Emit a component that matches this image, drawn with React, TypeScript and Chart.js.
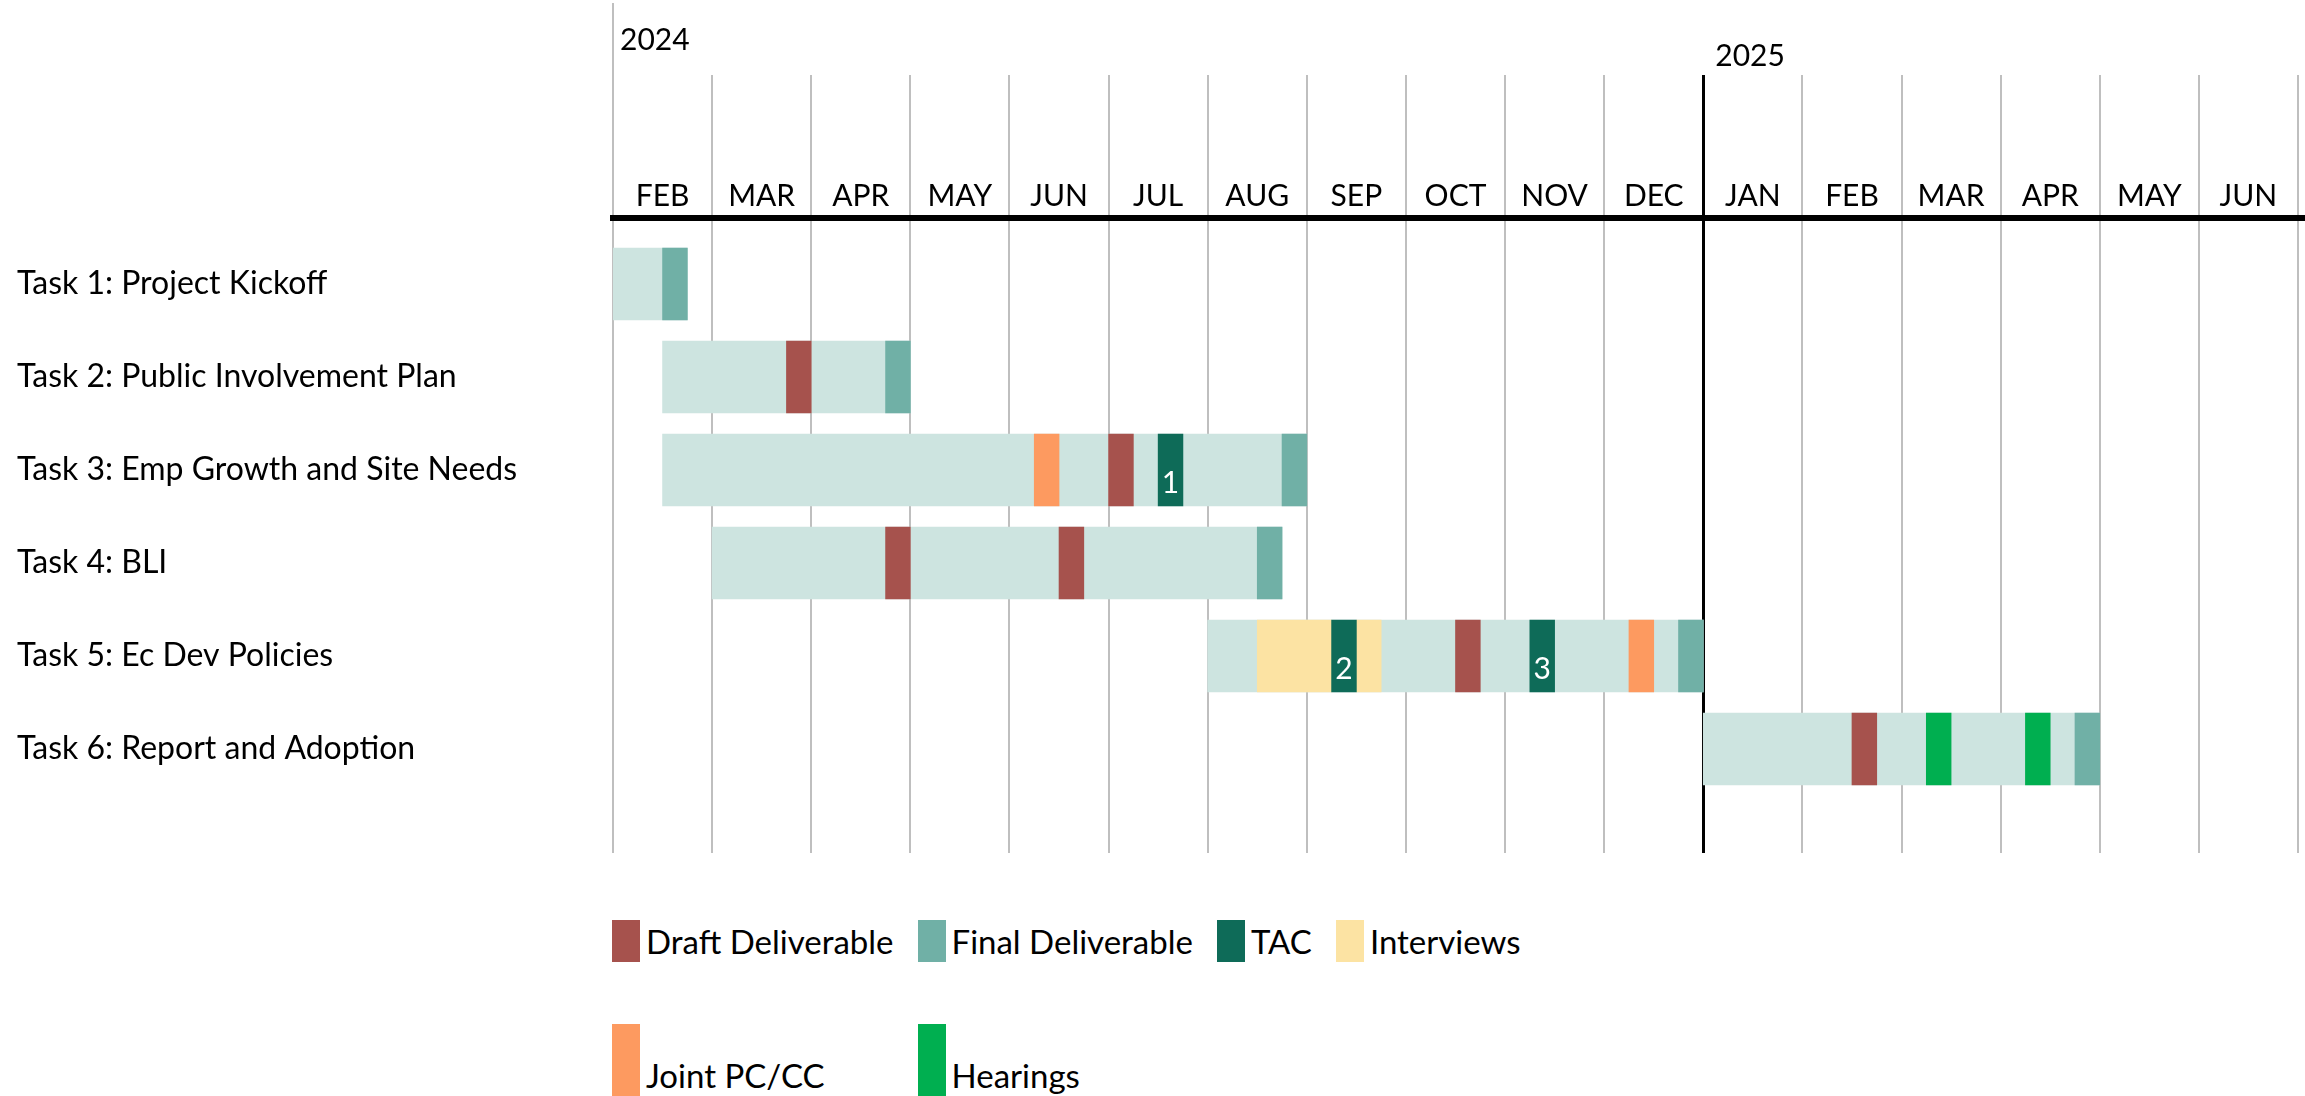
import React, { useEffect, useRef } from 'react';
import { Chart, registerables } from 'chart.js';

Chart.register(...registerables);

// ---------- data ----------
const TASKS = [
  'Task 1: Project Kickoff',
  'Task 2: Public Involvement Plan',
  'Task 3: Emp Growth and Site Needs',
  'Task 4: BLI',
  'Task 5: Ec Dev Policies',
  'Task 6: Report and Adoption',
];

const MONTHS = ['FEB', 'MAR', 'APR', 'MAY', 'JUN', 'JUL', 'AUG', 'SEP', 'OCT', 'NOV', 'DEC', 'JAN', 'FEB', 'MAR', 'APR', 'MAY', 'JUN'];
const YEARS = ['2024', '2025'];
const YEAR_START_MONTH = [0, 11];

// task spans in months from Feb 1 2024
const TASK_START = [0, 0.5, 0.5, 1, 6, 11];
const TASK_END = [0.75, 3, 7, 6.75, 11, 15];

// milestone blocks: [task index, start month, end month]
const DRAFT = [[1, 1.75, 2], [2, 5, 5.25], [3, 2.75, 3], [3, 4.5, 4.75], [4, 8.5, 8.75], [5, 12.5, 12.75]];
const FINAL = [[0, 0.5, 0.75], [1, 2.75, 3], [2, 6.75, 7], [3, 6.5, 6.75], [4, 10.75, 11], [5, 14.75, 15]];
const TAC = [[2, 5.5, 5.75], [4, 7.25, 7.5], [4, 9.25, 9.5]];
const TAC_LABELS = ['1', '2', '3'];
const INTERVIEWS = [[4, 6.5, 7.25], [4, 7.5, 7.75]];
const JOINT = [[2, 4.25, 4.5], [4, 10.25, 10.5]];
const HEARINGS = [[5, 13.25, 13.5], [5, 14.25, 14.5]];

const SERIES_NAMES = ['Draft Deliverable', 'Final Deliverable', 'TAC', 'Interviews', 'Joint PC/CC', 'Hearings'];
const SERIES_DATA = [DRAFT, FINAL, TAC, INTERVIEWS, JOINT, HEARINGS];

// ---------- styles ----------
const SERIES_COLORS = ['#a6524d', '#70b0a6', '#0e6b58', '#fce3a3', '#fd9a60', '#00af50'];
const BASE_COLOR = '#cde4e0';
const GRID_COLOR = '#bfbfbf';
const FONT = 'Lato';

const toPoints = (segs: number[][]) => segs.map(([t, s, e]) => ({ x: [s, e], y: t }));

const yearPlugin = {
  id: 'yearLabels',
  afterDraw(chart: any) {
    const { ctx, chartArea } = chart;
    const xs = chart.scales.x;
    ctx.save();
    const x0 = Math.round(xs.getPixelForValue(0));
    ctx.strokeStyle = GRID_COLOR;
    ctx.lineWidth = 2;
    ctx.beginPath();
    ctx.moveTo(x0, 3);
    ctx.lineTo(x0, 76);
    ctx.stroke();
    ctx.fillStyle = '#000';
    ctx.fillRect(chartArea.right, chartArea.top - 3, chart.width - chartArea.right, 6);
    ctx.font = `30px ${FONT}`;
    ctx.textAlign = 'left';
    ctx.textBaseline = 'middle';
    const dx = [7, 12];
    const ys = [40, 56];
    YEARS.forEach((y, i) => {
      ctx.fillText(y, xs.getPixelForValue(YEAR_START_MONTH[i]) + dx[i], ys[i]);
    });
    ctx.restore();
  },
};

const tacLabelPlugin = {
  id: 'tacLabels',
  afterDatasetsDraw(chart: any) {
    const idx = chart.data.datasets.findIndex((d: any) => d.label === 'TAC');
    if (idx < 0) return;
    const meta = chart.getDatasetMeta(idx);
    const { ctx } = chart;
    ctx.save();
    ctx.fillStyle = '#fff';
    ctx.font = `30px ${FONT}`;
    ctx.textAlign = 'center';
    ctx.textBaseline = 'middle';
    meta.data.forEach((el: any, i: number) => {
      const { x, base, y } = el.getProps(['x', 'base', 'y'], true);
      ctx.fillText(TAC_LABELS[i] ?? '', (x + base) / 2, y + 13);
    });
    ctx.restore();
  },
};

export default function App() {
  const ref = useRef<HTMLCanvasElement | null>(null);

  useEffect(() => {
    if (!ref.current) return;
    const datasets: any[] = [
      {
        label: 'Duration',
        data: TASKS.map((_, i) => ({ x: [TASK_START[i], TASK_END[i]], y: i })),
        backgroundColor: BASE_COLOR,
        order: 1,
      },
      ...SERIES_NAMES.map((name, i) => ({
        label: name,
        data: toPoints(SERIES_DATA[i]),
        backgroundColor: SERIES_COLORS[i],
        order: 0,
      })),
    ];

    const chart = new Chart(ref.current, {
      type: 'bar',
      data: { datasets },
      plugins: [yearPlugin, tacLabelPlugin],
      options: {
        indexAxis: 'y',
        responsive: false,
        animation: false,
        devicePixelRatio: 1,
        layout: { padding: { top: 75, left: 17, right: 7, bottom: 27 } },
        datasets: {
          bar: { grouped: false, barThickness: 72, borderWidth: 0 },
        },
        plugins: {
          legend: { display: false },
          tooltip: { enabled: false },
        },
        scales: {
          x: {
            type: 'linear',
            min: 0,
            max: MONTHS.length,
            display: false,
          },
          months: {
            type: 'category',
            position: 'top',
            axis: 'x',
            labels: MONTHS,
            offset: true,
            grid: {
              offset: true,
              tickLength: 143,
              drawOnChartArea: true,
              color: (c: any) => (c.index === YEAR_START_MONTH[1] ? '#000' : GRID_COLOR),
              lineWidth: (c: any) => (c.index === YEAR_START_MONTH[1] ? 3 : 2),
            },
            border: { display: true, color: '#000', width: 6 },
            ticks: {
              font: { family: FONT, size: 30 },
              color: '#000',
              padding: -139,
              maxRotation: 0,
              autoSkip: false,
            },
            afterFit: (s: any) => {
              s.height = 143;
            },
          } as any,
          y: {
            type: 'linear',
            reverse: true,
            offset: false,
            min: -0.71,
            max: 6.118,
            grid: { display: false },
            border: { display: false },
            afterBuildTicks: (s: any) => {
              s.ticks = TASKS.map((_, i) => ({ value: i }));
            },
            afterFit: (s: any) => {
              s.width = 596;
            },
            ticks: {
              autoSkip: false,
              crossAlign: 'far',
              padding: 0,
              color: '#000',
              font: { family: FONT, size: 32 },
              callback: (v: any) => TASKS[v] ?? '',
            },
          },
        },
      } as any,
    });
    return () => chart.destroy();
  }, []);

  return (
    <div style={{ position: 'fixed', left: 0, top: 0, width: 2305, height: 1096, background: '#fff', overflow: 'hidden' }}>
      <canvas ref={ref} width={2305} height={880} style={{ display: 'block' }} />
      <div
        style={{
          position: 'absolute',
          left: 612,
          top: 920,
          display: 'grid',
          gridTemplateColumns: 'repeat(4, auto)',
          columnGap: 24,
          rowGap: 62,
          justifyContent: 'start',
          alignItems: 'start',
          fontFamily: FONT,
          fontSize: 33,
          color: '#000',
        }}
      >
        {SERIES_NAMES.map((name, i) => {
          const secondRow = i >= 4;
          return (
            <div key={name} style={{ display: 'flex', alignItems: secondRow ? 'flex-end' : 'center', height: secondRow ? 72 : 42 }}>
              <div style={{ width: 28, height: secondRow ? 72 : 42, background: SERIES_COLORS[i], flex: 'none' }} />
              <span style={{ marginLeft: 6, lineHeight: '42px', whiteSpace: 'nowrap' }}>{name}</span>
            </div>
          );
        })}
      </div>
    </div>
  );
}
